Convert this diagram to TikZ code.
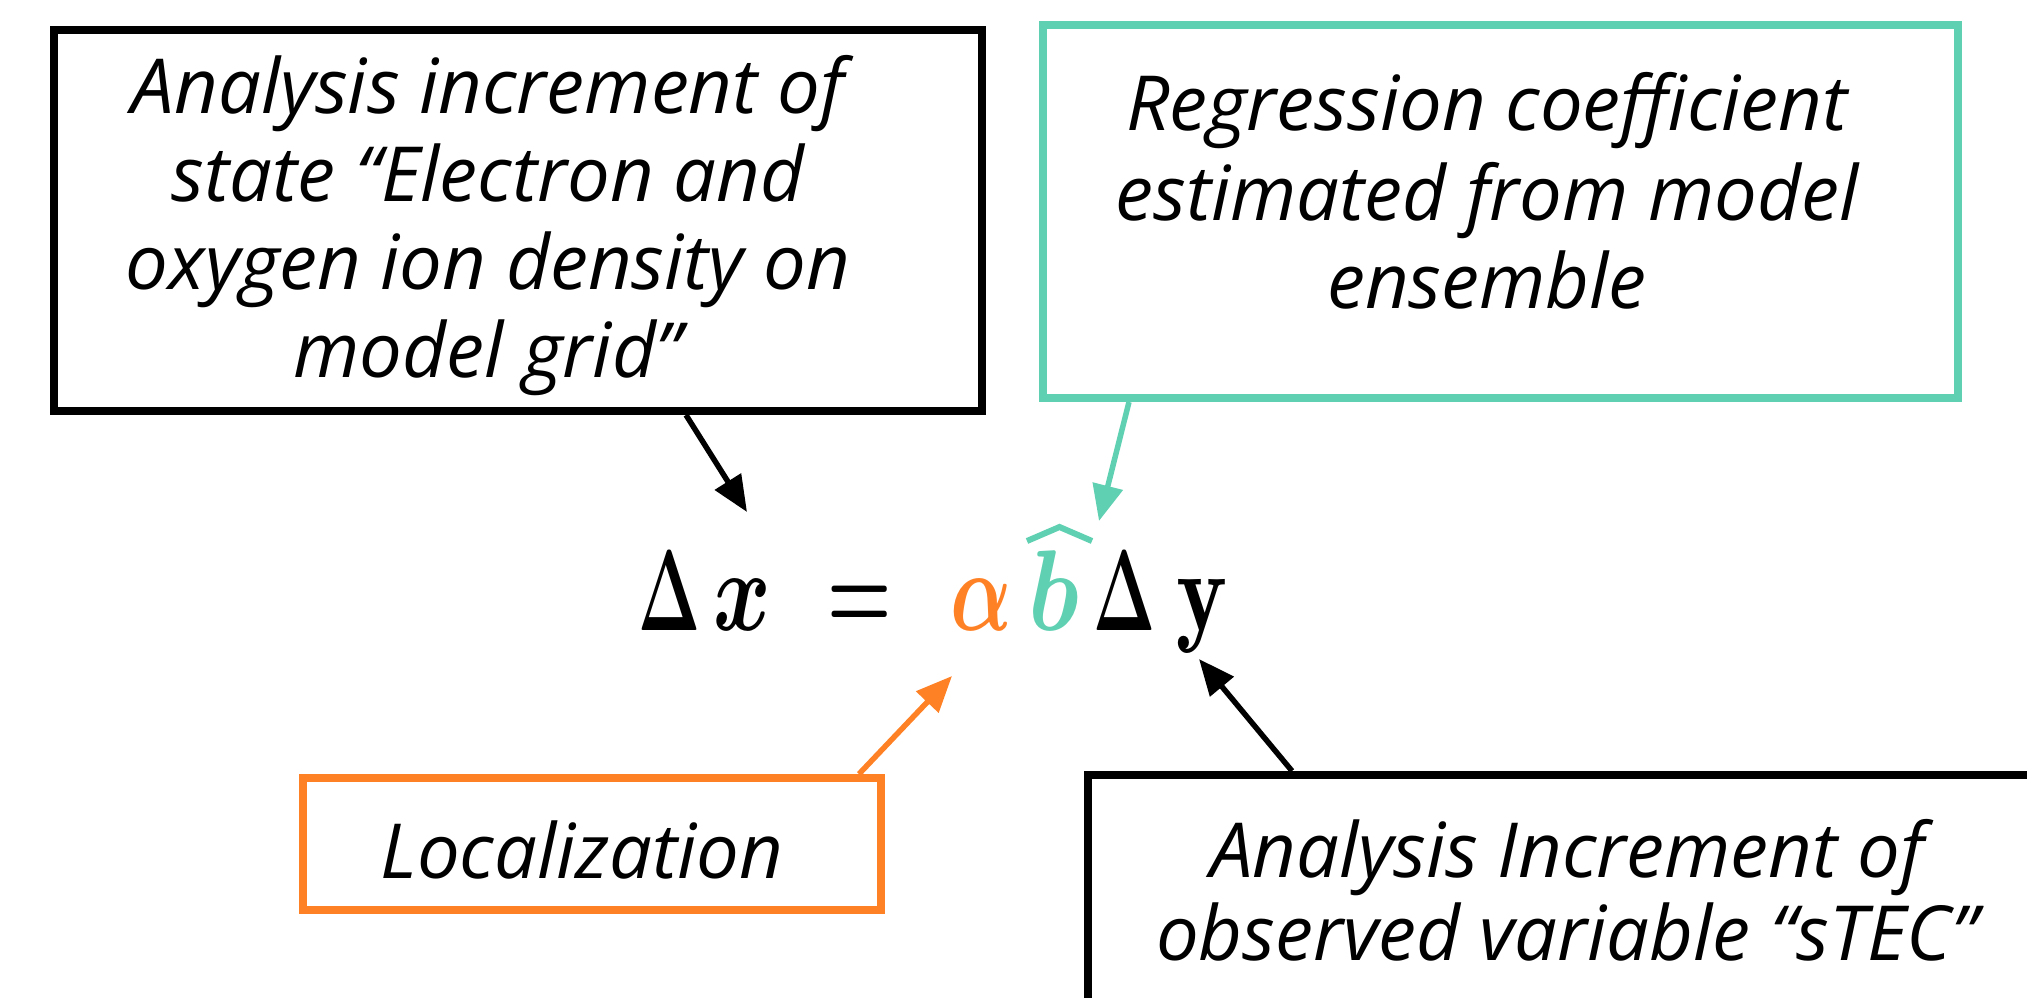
\RequirePackage{fix-cm}
\documentclass[tikz,border=0pt]{standalone}
\usepackage{fontspec}
\usepackage{graphicx}
\newfontfamily\lblfont{Open Sans}
\usetikzlibrary{arrows.meta}
\definecolor{myorange}{RGB}{255,129,37}
\definecolor{myteal}{RGB}{95,208,177}
\begin{document}
\begin{tikzpicture}[x=1pt,y=-1pt,
  lbl/.style={font=\lblfont\itshape\fontsize{76}{88}\selectfont, anchor=base, inner sep=0pt},
  box/.style={draw, line width=8pt, inner sep=0pt},
  arr/.style={line width=5.5pt, -{Triangle[length=36pt,width=30pt]}},
  eq/.style={anchor=base, inner sep=0pt, font=\fontsize{92}{110}\selectfont\boldmath},
  hatstroke/.style={draw=myteal, line width=6pt, line join=miter, line cap=butt}]
\useasboundingbox (0,0) rectangle (2027,998);
\clip (0,0) rectangle (2027,998);
% boxes
\node[box, minimum width=928pt, minimum height=381pt] (b1) at (518,220.5) {};
\node[box, draw=myteal, minimum width=915pt, minimum height=373pt] (b2) at (1500.5,211.5) {};
\node[box, draw=myorange, minimum width=578pt, minimum height=132pt] (b3) at (592,844) {};
\node[box, minimum width=972pt, minimum height=265pt] (b4) at (1574,907.5) {};
% texts
\node[lbl] (t11) at (488,113) {Analysis increment of};
\node[lbl] (t12) at (488,201) {state “Electron and};
\node[lbl] (t13) at (488,289) {oxygen ion density on};
\node[lbl] (t14) at (488,377) {model grid”};
\node[lbl] (t21) at (1487,130) {Regression coefficient};
\node[lbl] (t22) at (1487,220) {estimated from model};
\node[lbl] (t23) at (1487,308) {ensemble};
\node[lbl] (t31) at (582,878) {Localization};
\node[lbl] (t41) at (1567,877) {Analysis Increment of};
\node[lbl] (t42) at (1567,960) {observed variable “sTEC”};
% equation
\node[eq] (d1) at (669.5,630) {\scalebox{0.72}[1.25]{$\Delta$}};
\node[eq] (xx) at (742.5,630) {\scalebox{0.95}[1.25]{$x$}};
\node[eq] (eqs) at (860,630) {\scalebox{0.8}[1.25]{$=$}};
\node[eq, text=myorange] (al) at (981,630) {\scalebox{0.88}[1.25]{$\alpha$}};
\node[eq, text=myteal] (bh) at (1054,630) {\scalebox{1.06}[1.25]{$b$}};
\node[eq] (d2) at (1125,630) {\scalebox{0.72}[1.25]{$\Delta$}};
\node[eq] (yy) at (1202,630) {\scalebox{1.05}[1.25]{$\mathrm{y}$}};
% wide hat over b
\coordinate (h1) at (1027,541);
\coordinate (h2) at (1059.5,527);
\coordinate (h3) at (1092,541);
\draw[hatstroke] (h1) -- (h2) -- (h3);
% arrow tips
\coordinate (p1) at (747,512);
\coordinate (p2) at (1099,521);
\coordinate (p3) at (952,676);
\coordinate (p4) at (1199,659);
% arrows
\draw[arr] ([xshift=636pt]b1.south west) -- (p1);
\draw[arr, draw=myteal, fill=myteal] ([xshift=90pt]b2.south west) -- (p2);
\draw[arr, draw=myorange, fill=myorange] ([xshift=560pt]b3.north west) -- (p3);
\draw[arr] ([xshift=208pt]b4.north west) -- (p4);
\end{tikzpicture}
\end{document}
